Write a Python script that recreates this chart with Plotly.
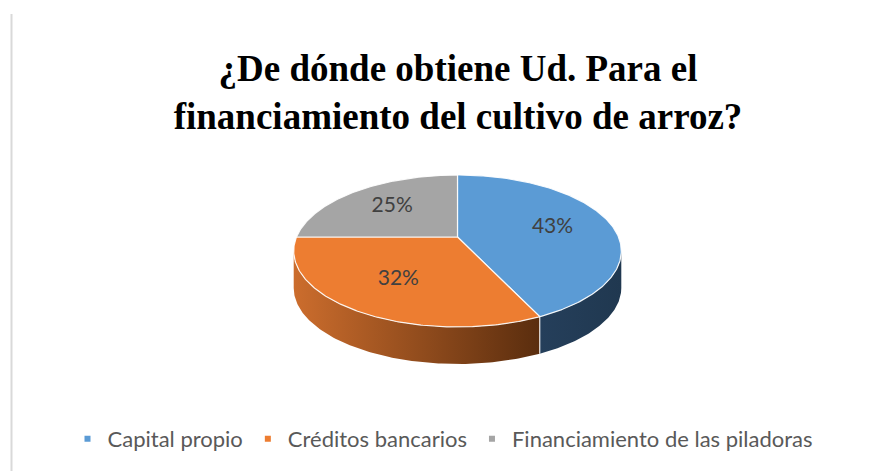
import numpy as np
import plotly.graph_objects as go

# ---- data ----
labels = ["Capital propio", "Créditos bancarios", "Financiamiento de las piladoras"]
values = [43, 32, 25]
top_colors = ["#5B9BD5", "#ED7D31", "#A5A5A5"]
side_colors = [["#253F5B", "#203850"], ["#CC6D2D", "#5A2D0E"], ["#707070", "#4C4C4C"]]
title_lines = ["¿De dónde obtiene Ud. Para el", "financiamiento del cultivo de arroz?"]

# ---- geometry (pixel space) ----
W, H = 886, 471
CX, CY = 457.5, 237.0
R, RY = 161.0, 73.4
D = 5.43
DEPTH = 37.0
LABEL_R = 0.62


def proj(theta_deg, z=0.0, r=1.0):
    t = np.radians(theta_deg)
    u, v = r * np.sin(t), r * np.cos(t)
    f = D / (D + v)
    return CX + R * u * f, CY - RY * v * f + z


# tangent (silhouette) angles
grid = np.linspace(0, 360, 3601)
gx, _ = proj(grid)
right_t = grid[:1800][np.argmax(gx[:1800])]
left_t = grid[1800:][np.argmin(gx[1800:])]

total = float(sum(values))
bounds = np.concatenate([[0.0], np.cumsum(values) / total * 360.0])

fig = go.Figure()

# sides
for i in range(len(values)):
    a, b = max(bounds[i], right_t), min(bounds[i + 1], left_t)
    if b <= a:
        continue
    th = np.linspace(a, b, 120)
    x1, y1 = proj(th)
    x2, y2 = proj(th[::-1], DEPTH)
    xs = np.concatenate([x1, x2, x1[:1]])
    ys = np.concatenate([y1, y2, y1[:1]])
    fig.add_trace(go.Scatter(
        x=xs, y=ys, mode="lines", fill="toself", line=dict(width=0),
        fillgradient=dict(type="horizontal",
                          colorscale=[[0, side_colors[i][0]], [1, side_colors[i][1]]]),
        hoverinfo="skip", showlegend=False))

# seams on the side
for bb in bounds:
    if right_t < bb < left_t:
        xa, ya = proj(bb)
        xb, yb = proj(bb, DEPTH)
        fig.add_trace(go.Scatter(x=[xa, xb], y=[ya, yb], mode="lines",
                                 line=dict(color="rgba(255,255,255,0.85)", width=1.2),
                                 hoverinfo="skip", showlegend=False))

# top faces
for i in range(len(values)):
    th = np.linspace(bounds[i], bounds[i + 1], 200)
    x, y = proj(th)
    xs = np.concatenate([[CX], x, [CX]])
    ys = np.concatenate([[CY], y, [CY]])
    fig.add_trace(go.Scatter(
        x=xs, y=ys, mode="lines", fill="toself", fillcolor=top_colors[i],
        line=dict(color="rgba(255,255,255,0.9)", width=1.2),
        hoverinfo="skip", showlegend=False))

# percentage labels
mids = (bounds[:-1] + bounds[1:]) / 2
lx, ly = proj(mids, 0.0, LABEL_R)
fig.add_trace(go.Scatter(
    x=lx, y=ly, mode="text",
    text=[f"{v / total * 100:.0f}%" for v in values],
    textfont=dict(family="Lato", size=21, color="#404040"),
    hoverinfo="skip", showlegend=False))

# legend entries
for lab, col in zip(labels, top_colors):
    fig.add_trace(go.Scatter(x=[None], y=[None], mode="markers", name=lab,
                             marker=dict(symbol="square", size=6, color=col)))

fig.add_shape(type="line", xref="x", yref="y", x0=11.5, x1=11.5, y0=14, y1=H,
              line=dict(color="#D9D9D9", width=2))

fig.update_layout(
    width=W, height=H, margin=dict(l=0, r=0, t=0, b=0),
    paper_bgcolor="white", plot_bgcolor="white",
    xaxis=dict(range=[0, W], visible=False, fixedrange=True),
    yaxis=dict(range=[H, 0], visible=False, fixedrange=True),
    title=dict(text="<br>".join(title_lines), x=458 / W, xanchor="center",
               y=1 - 81 / H, yanchor="middle",
               font=dict(family="Liberation Serif", size=37, color="black", weight="bold")),
    legend=dict(orientation="h", x=0.5, xanchor="center", y=1 - 439 / H, yanchor="middle",
                font=dict(family="Lato", size=22, color="#595959"),
                bgcolor="rgba(0,0,0,0)"),
    showlegend=True,
)

fig.write_html("out.html", config={"displayModeBar": False},
               post_script="document.body.style.margin='0';")
